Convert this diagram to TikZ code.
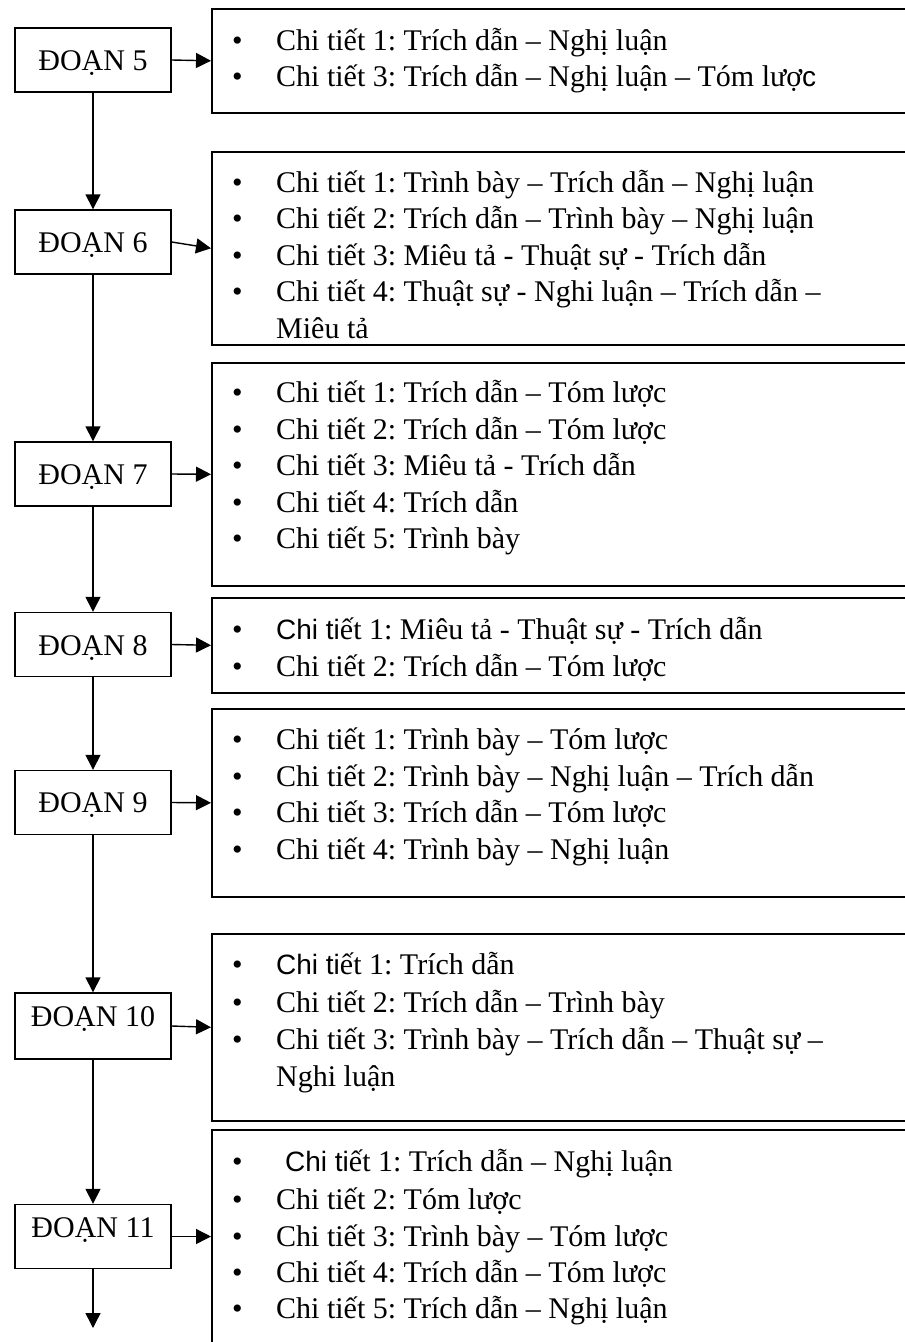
\documentclass[tikz,border=0pt]{standalone}
\usepackage{fontspec}
\setmainfont{Liberation Serif}
\newfontfamily\arialf{Liberation Sans}
\usetikzlibrary{arrows.meta}
\frenchspacing
\newcommand\bl{\makebox[44pt][l]{•}}
\newcommand\sch[1]{{\arialf\fontsize{28}{34}\selectfont #1}}
\tikzset{
  dbox/.style={draw, line width=1.4pt, minimum width=156pt, minimum height=64pt, inner sep=0pt},
  rbox/.style={draw, line width=1.6pt, minimum width=709pt, inner sep=0pt, anchor=north west},
  lbl/.style={anchor=base, inner sep=0pt, font=\fontsize{30}{36}\selectfont\frenchspacing},
  itm/.style={anchor=base west, inner sep=0pt, font=\fontsize{30}{36}\selectfont\frenchspacing},
  conn/.style={line width=1.4pt, -{Triangle[width=15pt,length=15pt]}}
}
\begin{document}
\begin{tikzpicture}[x=1pt,y=-1pt]
\useasboundingbox (0,0) rectangle (905,1342);
\clip (0,0) rectangle (905,1342);
\fill[white] (0,0) rectangle (905,1342);
% left boxes
\node[dbox] (d5) at (93,60) {};
\node[dbox] (d6) at (93,242) {};
\node[dbox] (d7) at (93,474) {};
\node[dbox] (d8) at (93,644.5) {};
\node[dbox] (d9) at (93,802.5) {};
\node[dbox, minimum height=66pt] (d10) at (93,1026) {};
\node[dbox] (d11) at (93,1236.5) {};
\node[lbl] (t5) at (93,70) {ĐOẠN 5};
\node[lbl] (t6) at (93,252) {ĐOẠN 6};
\node[lbl] (t7) at (93,484) {ĐOẠN 7};
\node[lbl] (t8) at (93,655) {ĐOẠN 8};
\node[lbl] (t9) at (93,812) {ĐOẠN 9};
\node[lbl] (t10) at (93,1026) {ĐOẠN 10};
\node[lbl] (t11) at (93,1237) {ĐOẠN 11};
% right boxes
\node[rbox, minimum height=104pt] (r1) at (211,8) {};
\node[rbox, minimum height=193pt] (r2) at (211,151) {};
\node[rbox, minimum height=223pt] (r3) at (211,362) {};
\node[rbox, minimum height=95pt] (r4) at (211,597) {};
\node[rbox, minimum height=188pt] (r5) at (211,708) {};
\node[rbox, minimum height=187pt] (r6) at (211,933) {};
\node[rbox, minimum height=216pt] (r7) at (211,1129) {};
% items
\node[itm] (a1) at (232,50) {\bl Chi tiết 1: Trích dẫn – Nghị luận};
\node[itm] (a2) at (232,86) {\bl Chi tiết 3: Trích dẫn – Nghị luận – Tóm lượ\sch{c}};
\node[itm] (b1) at (232,192) {\bl Chi tiết 1: Trình bày – Trích dẫn – Nghị luận};
\node[itm] (b2) at (232,228.5) {\bl Chi tiết 2: Trích dẫn – Trình bày – Nghị luận};
\node[itm] (b3) at (232,265) {\bl Chi tiết 3: Miêu tả - Thuật sự - Trích dẫn};
\node[itm] (b4) at (232,301.5) {\bl Chi tiết 4: Thuật sự - Nghi luận – Trích dẫn –};
\node[itm] (b5) at (276,338) {Miêu tả};
\node[itm] (c1) at (232,402) {\bl Chi tiết 1: Trích dẫn – Tóm lược};
\node[itm] (c2) at (232,439) {\bl Chi tiết 2: Trích dẫn – Tóm lược};
\node[itm] (c3) at (232,475) {\bl Chi tiết 3: Miêu tả - Trích dẫn};
\node[itm] (c4) at (232,512) {\bl Chi tiết 4: Trích dẫn};
\node[itm] (c5) at (232,548) {\bl Chi tiết 5: Trình bày};
\node[itm] (e1) at (232,639) {\bl \sch{Chi ti}ết 1: Miêu tả - Thuật sự - Trích dẫn};
\node[itm] (e2) at (232,676) {\bl Chi tiết 2: Trích dẫn – Tóm lược};
\node[itm] (f1) at (232,749) {\bl Chi tiết 1: Trình bày – Tóm lược};
\node[itm] (f2) at (232,786) {\bl Chi tiết 2: Trình bày – Nghị luận – Trích dẫn};
\node[itm] (f3) at (232,822) {\bl Chi tiết 3: Trích dẫn – Tóm lược};
\node[itm] (f4) at (232,859) {\bl Chi tiết 4: Trình bày – Nghị luận};
\node[itm] (g1) at (232,974) {\bl \sch{Chi ti}ết 1: Trích dẫn};
\node[itm] (g2) at (232,1012) {\bl Chi tiết 2: Trích dẫn – Trình bày};
\node[itm] (g3) at (232,1049) {\bl Chi tiết 3: Trình bày – Trích dẫn – Thuật sự –};
\node[itm] (g4) at (276,1086) {Nghi luận};
\node[itm] (h1) at (232,1171) {\bl \hspace{9pt}\sch{Chi ti}ết 1: Trích dẫn – Nghị luận};
\node[itm] (h2) at (232,1209) {\bl Chi tiết 2: Tóm lược};
\node[itm] (h3) at (232,1246) {\bl Chi tiết 3: Trình bày – Tóm lược};
\node[itm] (h4) at (232,1282) {\bl Chi tiết 4: Trích dẫn – Tóm lược};
\node[itm] (h5) at (232,1318) {\bl Chi tiết 5: Trích dẫn – Nghị luận};
% connectors
\draw[conn] (d5) -- (d6);
\draw[conn] (d6) -- (d7);
\draw[conn] (d7) -- (d8);
\draw[conn] (d8) -- (d9);
\draw[conn] (d9) -- (d10);
\draw[conn] (d10) -- (d11);
\coordinate (endarrow) at (93,1328);
\draw[conn] (d11.south) -- (endarrow);
\draw[conn] (d5.east) -- (r1.west);
\draw[conn] (d6.east) -- (r2.west);
\draw[conn] (d7.east) -- (r3.west);
\draw[conn] (d8.east) -- (r4.west);
\draw[conn] (d9.east) -- (r5.west);
\draw[conn] (d10.east) -- (r6.west);
\draw[conn] (d11.east) -- (d11.east -| r7.west);
\end{tikzpicture}
\end{document}
